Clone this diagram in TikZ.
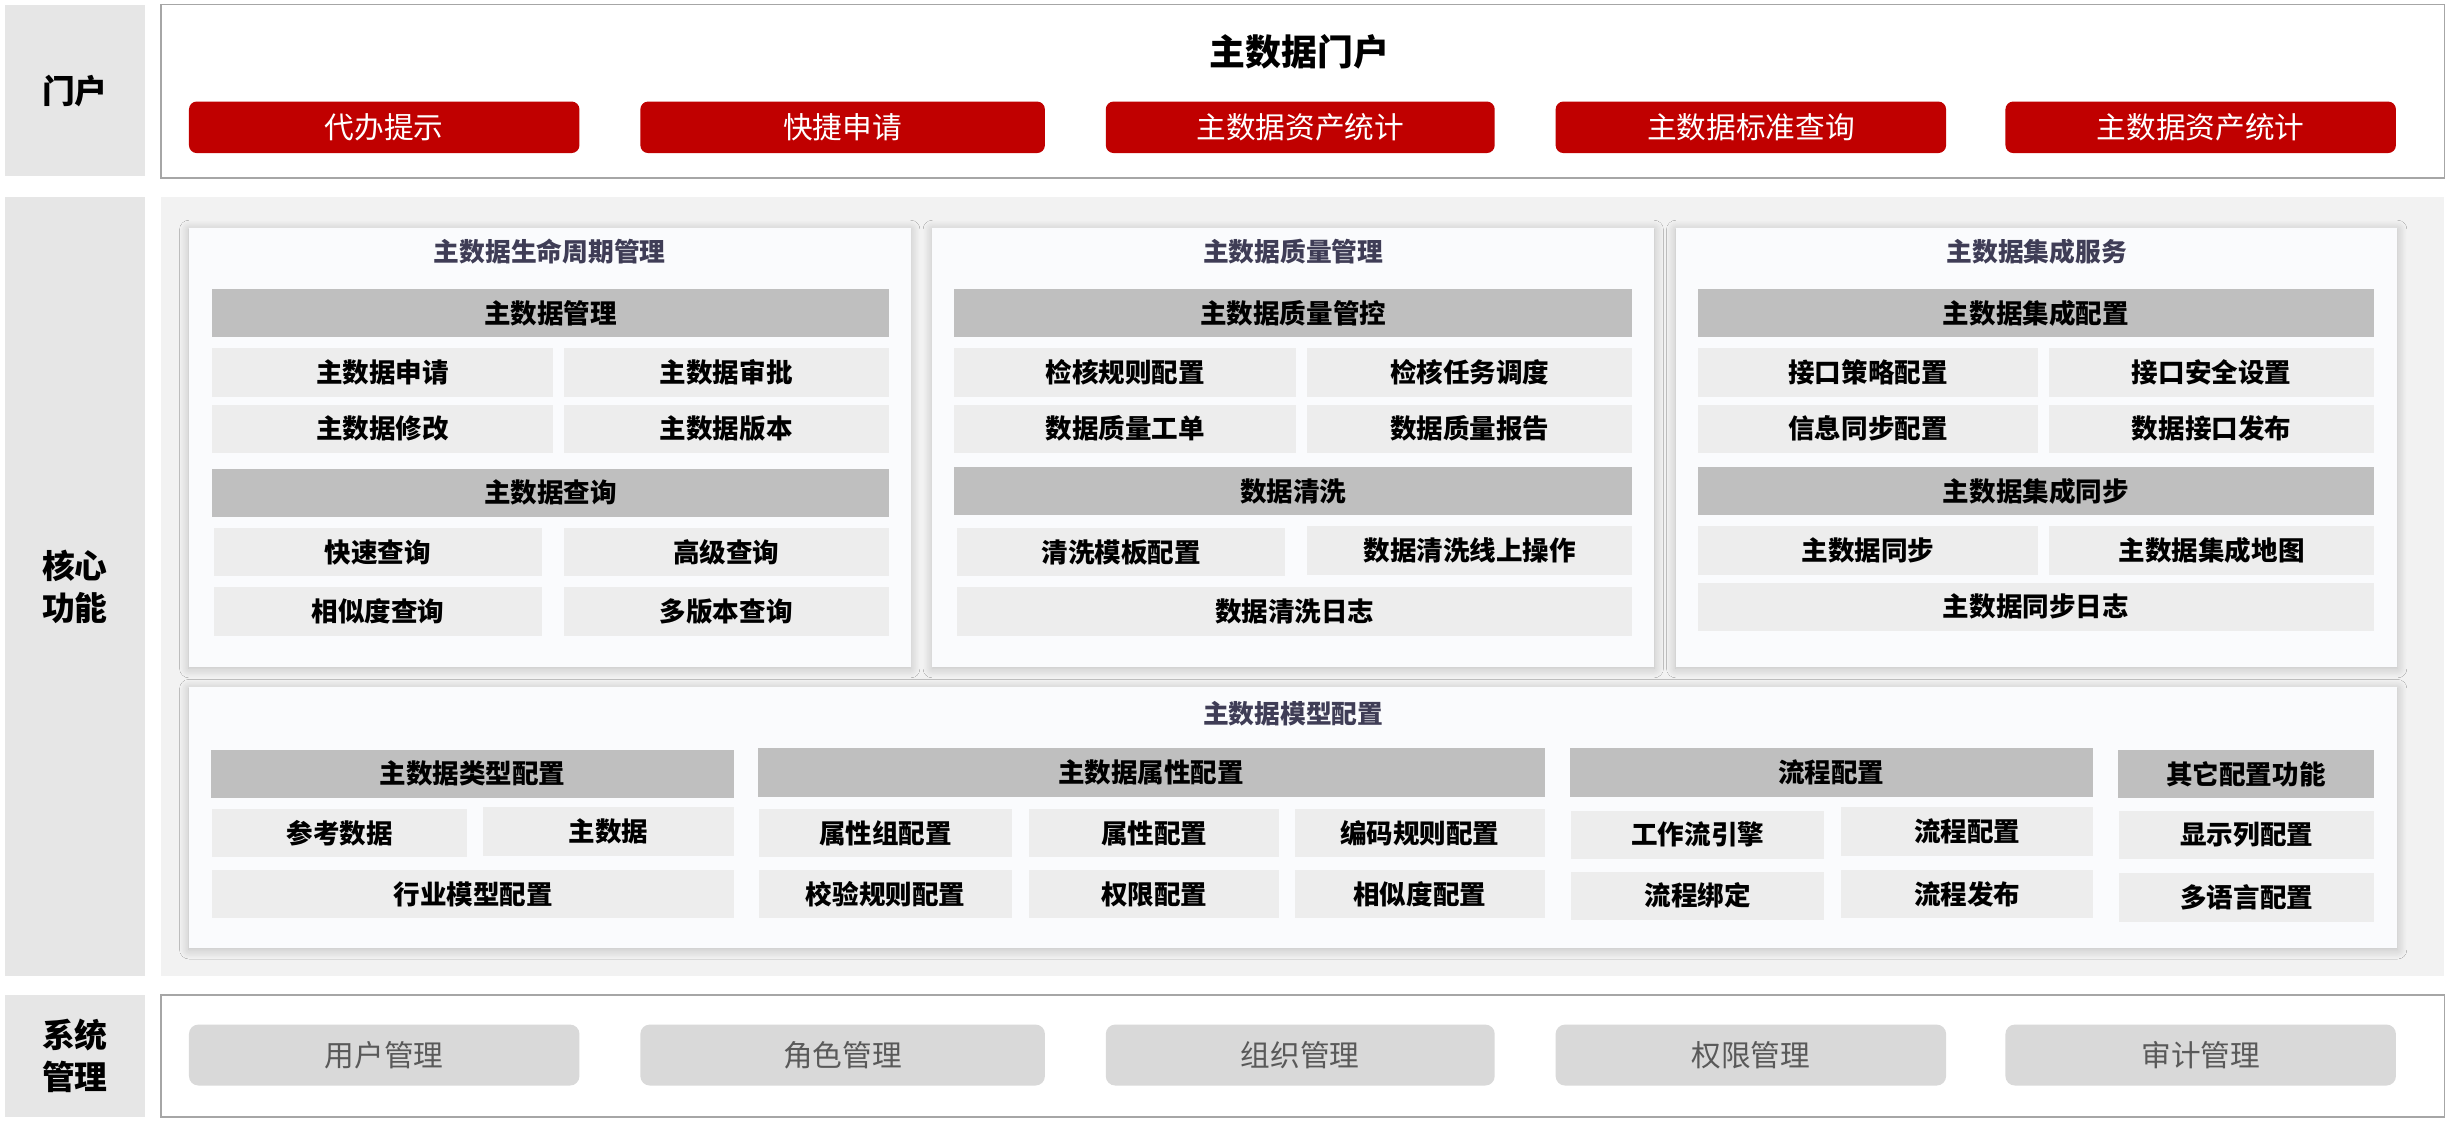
\documentclass[tikz,border=0pt]{standalone}
\usepackage{fontspec}
\setmainfont{Noto Sans CJK SC}
\usetikzlibrary{shadows.blur}

\definecolor{hdred}{HTML}{C00000}
\definecolor{hdgray}{HTML}{BFBFBF}
\definecolor{cellgray}{HTML}{EDEDED}
\definecolor{labgray}{HTML}{E6E6E6}
\definecolor{bggray}{HTML}{F2F2F2}
\definecolor{panelbg}{HTML}{FAFBFD}
\definecolor{titleink}{HTML}{3F3D56}
\definecolor{sysgray}{HTML}{D9D9D9}
\definecolor{sysink}{HTML}{595959}
\definecolor{framegray}{HTML}{A6A6A6}

% box from corner (x1,y1) to corner (x2,y2), in picture pixels
\newcommand\cell[7][cell]{%
  \node[#1,minimum width={(#5)-(#3)},minimum height={(#6)-(#4)}] (#2)
    at ({((#3)+(#5))/2},{((#4)+(#6))/2}) {#7};}

\begin{document}
\begin{tikzpicture}[x=1pt,y=-1pt,
    every node/.style={inner sep=0pt,outer sep=0pt},
    lab/.style={fill=labgray,align=center,font=\fontsize{21}{27}\selectfont\bfseries},
    frame/.style={draw=framegray,line width=1pt,fill=white},
    redbtn/.style={fill=hdred,rounded corners=5pt,text=white,font=\fontsize{19}{22}\selectfont},
    sysbtn/.style={fill=sysgray,rounded corners=6pt,text=sysink,font=\fontsize{19}{22}\selectfont},
    panel/.style={fill=panelbg,blur shadow={shadow xshift=0pt,shadow yshift=-1pt,shadow blur radius=6pt,shadow blur steps=12,shadow opacity=22}},
    ptitle/.style={text=titleink,font=\fontsize{16.5}{20}\selectfont\bfseries},
    head/.style={fill=hdgray,font=\fontsize{17}{20}\selectfont\bfseries},
    cell/.style={fill=cellgray,font=\fontsize{17}{20}\selectfont\bfseries}]
  \useasboundingbox (0,0) rectangle (1568,718);

  % portal layer
  \cell[lab]{portlab}{3}{3}{93}{113}{门户}
  \cell[frame]{portframe}{103}{3}{1565}{114}{}
  \node[font=\fontsize{23}{26}\selectfont\bfseries] (porttitle) at (832,33) {主数据门户};
  \foreach \a/\b/\t [count=\i] in {121/371/代办提示,410/669/快捷申请,708/957/主数据资产统计,996/1246/主数据标准查询,1284/1534/主数据资产统计}
    \cell[redbtn]{port\i}{\a}{65}{\b}{98}{\t};

  % core layer
  \cell[lab]{corelab}{3}{126}{93}{625}{核心\\功能}
  \cell[fill=bggray]{coreback}{103}{126}{1565}{625}{}

  % lifecycle
  \cell[panel]{life}{121}{146}{583}{427}{}
  \node[ptitle] (lifetitle) at (352,161) {主数据生命周期管理};
  \cell[head]{lifeh1}{136}{185}{569}{216}{主数据管理}
  \cell{life1}{136}{223}{354}{254}{主数据申请}
  \cell{life2}{361}{223}{569}{254}{主数据审批}
  \cell{life3}{136}{259}{354}{290}{主数据修改}
  \cell{life4}{361}{259}{569}{290}{主数据版本}
  \cell[head]{lifeh2}{136}{300}{569}{331}{主数据查询}
  \cell{life5}{137}{338}{347}{369}{快速查询}
  \cell{life6}{361}{338}{569}{369}{高级查询}
  \cell{life7}{137}{376}{347}{407}{相似度查询}
  \cell{life8}{361}{376}{569}{407}{多版本查询}

  % quality
  \cell[panel]{qual}{597}{146}{1059}{427}{}
  \node[ptitle] (qualtitle) at (828,161) {主数据质量管理};
  \cell[head]{qualh1}{611}{185}{1045}{216}{主数据质量管控}
  \cell{qual1}{611}{223}{830}{254}{检核规则配置}
  \cell{qual2}{837}{223}{1045}{254}{检核任务调度}
  \cell{qual3}{611}{259}{830}{290}{数据质量工单}
  \cell{qual4}{837}{259}{1045}{290}{数据质量报告}
  \cell[head]{qualh2}{611}{299}{1045}{330}{数据清洗}
  \cell{qual5}{613}{338}{823}{369}{清洗模板配置}
  \cell{qual6}{837}{337}{1045}{368}{数据清洗线上操作}
  \cell{qual7}{613}{376}{1045}{407}{数据清洗日志}

  % integration
  \cell[panel]{integ}{1073}{146}{1535}{427}{}
  \node[ptitle] (integtitle) at (1304,161) {主数据集成服务};
  \cell[head]{integh1}{1087}{185}{1520}{216}{主数据集成配置}
  \cell{integ1}{1087}{223}{1305}{254}{接口策略配置}
  \cell{integ2}{1312}{223}{1520}{254}{接口安全设置}
  \cell{integ3}{1087}{259}{1305}{290}{信息同步配置}
  \cell{integ4}{1312}{259}{1520}{290}{数据接口发布}
  \cell[head]{integh2}{1087}{299}{1520}{330}{主数据集成同步}
  \cell{integ5}{1087}{337}{1305}{368}{主数据同步}
  \cell{integ6}{1312}{337}{1520}{368}{主数据集成地图}
  \cell{integ7}{1087}{373}{1520}{404}{主数据同步日志}

  % model configuration
  \cell[panel]{model}{121}{440}{1535}{607}{}
  \node[ptitle] (modeltitle) at (828,457) {主数据模型配置};
  \cell[head]{typeh}{135}{480}{470}{511}{主数据类型配置}
  \cell{type1}{136}{518}{299}{549}{参考数据}
  \cell{type2}{309}{517}{470}{548}{主数据}
  \cell{type3}{136}{557}{470}{588}{行业模型配置}
  \cell[head]{attrh}{485}{479}{989}{510}{主数据属性配置}
  \cell{attr1}{486}{518}{648}{549}{属性组配置}
  \cell{attr2}{659}{518}{819}{549}{属性配置}
  \cell{attr3}{829}{518}{989}{549}{编码规则配置}
  \cell{attr4}{486}{557}{648}{588}{校验规则配置}
  \cell{attr5}{659}{557}{819}{588}{权限配置}
  \cell{attr6}{829}{557}{989}{588}{相似度配置}
  \cell[head]{flowh}{1005}{479}{1340}{510}{流程配置}
  \cell{flow1}{1006}{519}{1168}{550}{工作流引擎}
  \cell{flow2}{1179}{517}{1340}{548}{流程配置}
  \cell{flow3}{1006}{558}{1168}{589}{流程绑定}
  \cell{flow4}{1179}{557}{1340}{588}{流程发布}
  \cell[head]{otherh}{1356}{480}{1520}{511}{其它配置功能}
  \cell{other1}{1357}{519}{1520}{550}{显示列配置}
  \cell{other2}{1357}{559}{1520}{590}{多语言配置}

  % system layer
  \cell[lab]{syslab}{3}{637}{93}{715}{系统\\管理}
  \cell[frame]{sysframe}{103}{637}{1565}{715}{}
  \foreach \a/\b/\t [count=\i] in {121/371/用户管理,410/669/角色管理,708/957/组织管理,996/1246/权限管理,1284/1534/审计管理}
    \cell[sysbtn]{sys\i}{\a}{656}{\b}{695}{\t};
\end{tikzpicture}
\end{document}
